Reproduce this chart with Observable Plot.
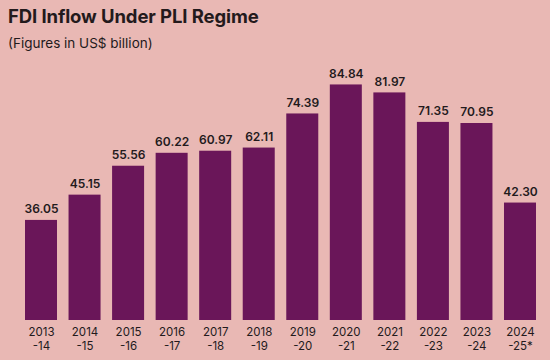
<!DOCTYPE html>
<html>
<head>
<meta charset="utf-8">
<script src="https://cdn.jsdelivr.net/npm/d3@7"></script>
<script src="https://cdn.jsdelivr.net/npm/@observablehq/plot@0.6"></script>
<style>
  html, body { margin: 0; padding: 0; background: #e9b8b4; }
  body { width: 550px; height: 360px; overflow: hidden; font-family: Inter, "Noto Sans", sans-serif; color: #231a1c; }
  #title { position: absolute; left: 8px; top: 5px; font-size: 18.5px; font-weight: 700; letter-spacing: -0.1px; }
  #subtitle { position: absolute; left: 8px; top: 35px; font-size: 13.5px; font-weight: 400; }
  #chart { position: absolute; left: 0; top: 58px; }
</style>
</head>
<body>
<div id="title">FDI Inflow Under PLI Regime</div>
<div id="subtitle">(Figures in US$ billion)</div>
<div id="chart"></div>
<script>
const years = ["2013\n-14","2014\n-15","2015\n-16","2016\n-17","2017\n-18","2018\n-19","2019\n-20","2020\n-21","2021\n-22","2022\n-23","2023\n-24","2024\n-25*"];
const values = [36.05,45.15,55.56,60.22,60.97,62.11,74.39,84.84,81.97,71.35,70.95,42.30];
const data = years.map((y, i) => ({year: y, value: values[i]}));

const chart = Plot.plot({
  width: 550,
  height: 302,
  marginLeft: 25,
  marginRight: 14,
  marginTop: 26,
  marginBottom: 40,
  style: {background: "transparent", color: "#231a1c", fontFamily: "Inter, 'Noto Sans', sans-serif"},
  x: {domain: years, paddingInner: 0.265, paddingOuter: 0, round: false, label: null, tickSize: 0},
  y: {domain: [0, 85], axis: null},
  marks: [
    Plot.barY(data, {x: "year", y: "value", fill: "#6a1659"}),
    Plot.text(data, {x: "year", y: "value", text: d => d.value.toFixed(2), dy: -11, fontSize: 12, fontWeight: 600, fill: "#231a1c"}),
    Plot.axisX({tickSize: 0, tickPadding: 6, fontSize: 11.5, lineHeight: 1.2, label: null})
  ]
});
document.getElementById("chart").appendChild(chart);
</script>
</body>
</html>
